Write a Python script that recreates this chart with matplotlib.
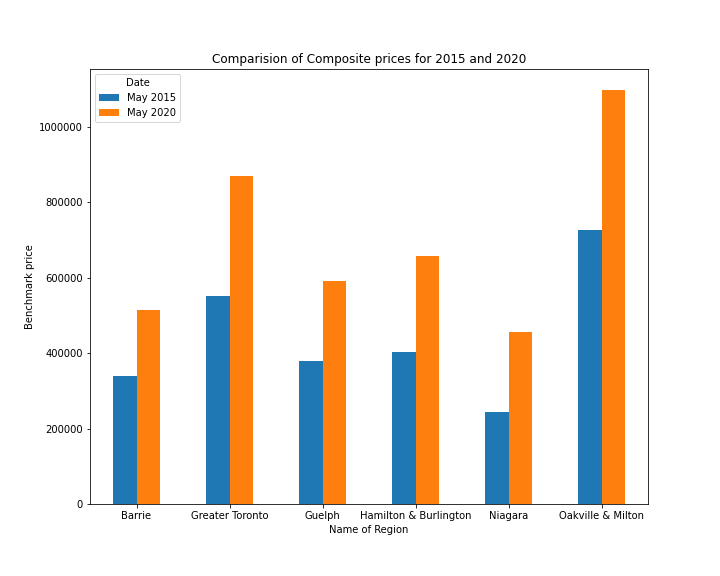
import matplotlib
matplotlib.use("Agg")
import matplotlib.pyplot as plt
import numpy as np

regions = ["Barrie", "Greater Toronto", "Guelph", "Hamilton & Burlington", "Niagara", "Oakville & Milton"]
may_2015 = [340000, 552000, 379000, 403000, 244000, 727000]
may_2020 = [515000, 870000, 592000, 658000, 456000, 1098000]

fig, ax = plt.subplots(figsize=(10, 8), dpi=72)
plt.subplots_adjust(left=0.125, right=0.9, top=0.88, bottom=0.125)

x = np.arange(len(regions))
w = 0.25
ax.bar(x - w / 2, may_2015, w, color="#1f77b4", label="May 2015")
ax.bar(x + w / 2, may_2020, w, color="#ff7f0e", label="May 2020")

ax.set_xticks(x)
ax.set_xticklabels(regions)
ax.set_xlim(-0.5, len(regions) - 0.5)
ax.ticklabel_format(axis="y", style="plain")
ax.set_xlabel("Name of Region")
ax.set_ylabel("Benchmark price")
ax.set_title("Comparision of Composite prices for 2015 and 2020")
ax.legend(title="Date", loc="upper left")

fig.savefig("out.png", dpi=72)
